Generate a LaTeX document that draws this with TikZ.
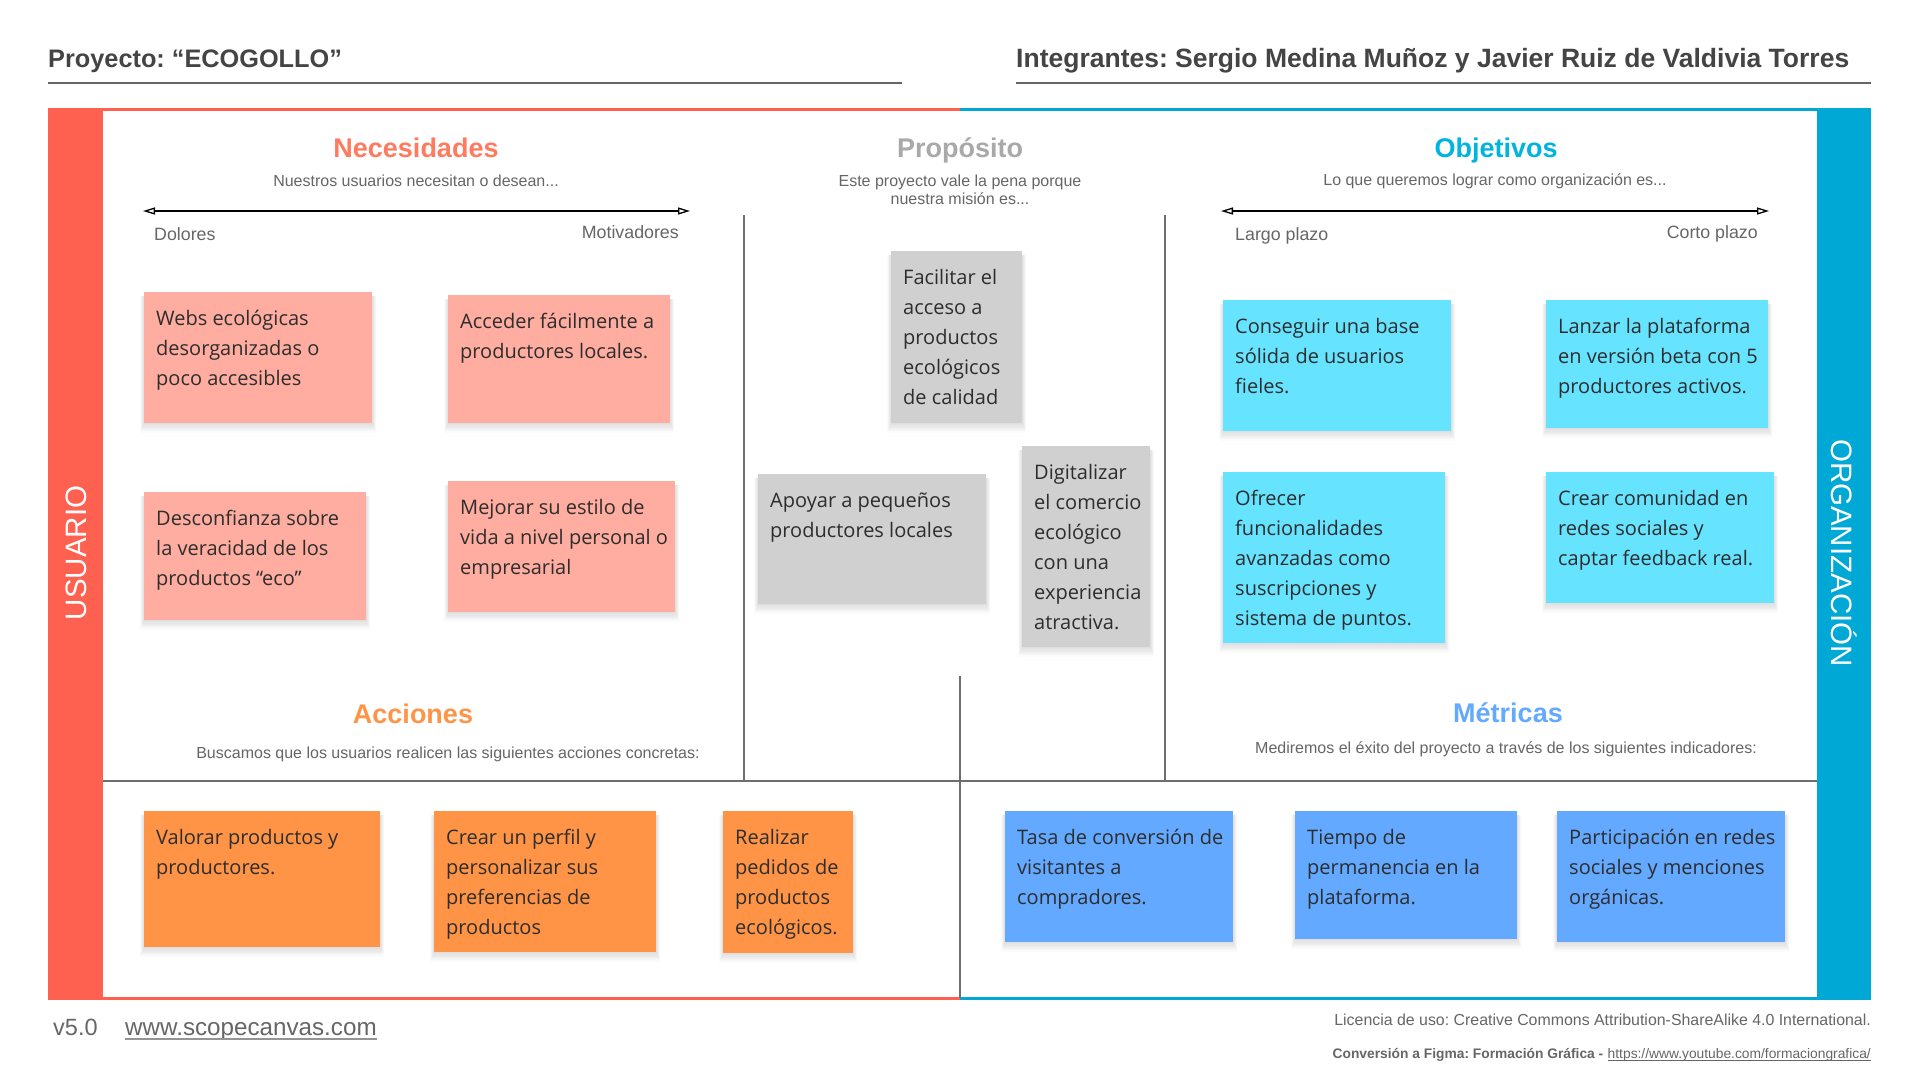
\documentclass[tikz,border=0pt]{standalone}
\usepackage{fontspec}
\setmainfont{Liberation Sans}
\newfontfamily\notefont{Open Sans}
\usetikzlibrary{arrows.meta}
\frenchspacing

\definecolor{userred}{HTML}{FF6150}
\definecolor{orgblue}{HTML}{00A8D6}
\definecolor{headgray}{HTML}{444444}
\definecolor{subgray}{HTML}{666666}
\definecolor{rulegray}{HTML}{6E6E6E}
\definecolor{needcol}{HTML}{FF7B60}
\definecolor{purpcol}{HTML}{A9A9A9}
\definecolor{goalcol}{HTML}{00B4E0}
\definecolor{actcol}{HTML}{FF9447}
\definecolor{metcol}{HTML}{63A9FF}
\definecolor{pinknote}{HTML}{FFADA0}
\definecolor{graynote}{HTML}{D0D0D0}
\definecolor{cyannote}{HTML}{66E3FF}
\definecolor{orangenote}{HTML}{FF9447}
\definecolor{bluenote}{HTML}{63A9FF}
\definecolor{notetextcol}{HTML}{2D2D2D}

\newcommand\fs[2]{\fontsize{#1}{#2}\selectfont}

% sticky note: name, x, y (top left), width, height, colour, lines
% a soft shadow is built from stacked translucent rectangles under the note
\newcommand\sticky[7]{%
  \foreach \k in {1,...,8}{%
    \fill[black, opacity=0.014]
      ({#2-0.5*\k},{#3+4}) rectangle ({#2+#4+0.5*\k},{#3+#5+1.2*\k});
  }
  \node[note, fill=#6, minimum width=#4pt, minimum height=#5pt, anchor=north west] (#1) at (#2,#3) {};
  \node[notetext, anchor=base west] (#1-t) at ([xshift=12pt,yshift=-33.5pt]#1.north west)
    {\parbox[t]{#4pt}{\raggedright #7}};
}

\begin{document}
\begin{tikzpicture}[x=1pt,y=-1pt,
  note/.style={draw=none, inner sep=0pt},
  notetext/.style={inner sep=0pt, text=notetextcol, font=\notefont\fs{20}{30}},
  header/.style={inner sep=0pt, text=headgray, font=\bfseries\fs{26.5}{30}},
  headrule/.style={draw=subgray, line width=1.6pt},
  divider/.style={draw=rulegray, line width=2pt},
  title/.style={inner sep=0pt, anchor=base, font=\bfseries\fs{27}{30}},
  sublabel/.style={inner sep=0pt, text=subgray, font=\fs{16}{18.5}},
  endlabel/.style={inner sep=0pt, text=subgray, font=\fs{17.8}{20}},
  axis/.style={draw=black, line width=1.3pt,
    {Triangle[open,length=12pt,width=7pt]}-{Triangle[open,length=12pt,width=7pt]}},
  sidelabel/.style={inner sep=0pt, text=white, font=\fs{29.5}{30}},
  footer/.style={inner sep=0pt, text=subgray}
]
\useasboundingbox (0,0) rectangle (1920,1080);
\fill[white] (0,0) rectangle (1920,1080);

% ---------- header ----------
\node[header, anchor=base west, font=\bfseries\fs{25.3}{30}] (proj) at (48,67) {Proyecto: “ECOGOLLO”};
\node[header, anchor=base west] (team) at (1016,67) {Integrantes: Sergio Medina Muñoz y Javier Ruiz de Valdivia Torres};
\coordinate (pr1) at (48,83);   \coordinate (pr2) at (902,83);
\coordinate (tr1) at (1016,83); \coordinate (tr2) at (1871,83);
\draw[headrule] (pr1) -- (pr2);
\draw[headrule] (tr1) -- (tr2);

% ---------- canvas frame ----------
\fill[userred] (48,108) rectangle (103,999);
\fill[orgblue] (1817,108) rectangle (1871,999);
\coordinate (tl) at (48,109);  \coordinate (tm) at (960,109);  \coordinate (tr) at (1871,109);
\coordinate (bl) at (48,998);  \coordinate (bm) at (960,998);  \coordinate (br) at (1871,998);
\draw[userred, line width=3pt] (tl) -- (tm);
\draw[orgblue, line width=3pt] (tm) -- (tr);
\draw[userred, line width=3pt] (bl) -- (bm);
\draw[orgblue, line width=3pt] (bm) -- (br);

\node[sidelabel, rotate=90] (usuario) at (76,553) {USUARIO};
\node[sidelabel, rotate=-90] (organiz) at (1844,553) {ORGANIZACIÓN};

% ---------- dividers ----------
\coordinate (v1t) at (744,215);  \coordinate (v1b) at (744,781);
\coordinate (v2t) at (1165,215); \coordinate (v2b) at (1165,781);
\coordinate (hl) at (103,781);   \coordinate (hr) at (1817,781);
\coordinate (cmt) at (960,676);  \coordinate (cmb) at (960,998);
\draw[divider] (v1t) -- (v1b);
\draw[divider] (v2t) -- (v2b);
\draw[divider] (hl) -- (hr);
\draw[divider] (cmt) -- (cmb);

% ---------- section titles ----------
\node[title, text=needcol] (need) at (416,157) {Necesidades};
\node[sublabel, anchor=base] (need-s) at (416,186) {Nuestros usuarios necesitan o desean...};
\coordinate (na1) at (143,211); \coordinate (na2) at (690,211);
\draw[axis] (na1) -- (na2);
\node[endlabel, anchor=base west] (dol) at (154,240) {Dolores};
\node[endlabel, anchor=base east] (mot) at (679,238) {Motivadores};

\node[title, text=purpcol] (purp) at (960,157) {Propósito};
\node[sublabel, anchor=base] (purp-s) at (960,186)
  {\parbox[t]{320pt}{\centering Este proyecto vale la pena porque\\nuestra misión es...}};

\node[title, text=goalcol] (goal) at (1496,157) {Objetivos};
\node[sublabel, anchor=base] (goal-s) at (1495,185) {Lo que queremos lograr como organización es...};
\coordinate (ga1) at (1221,211); \coordinate (ga2) at (1769,211);
\draw[axis] (ga1) -- (ga2);
\node[endlabel, anchor=base west] (largo) at (1235,240) {Largo plazo};
\node[endlabel, anchor=base east] (corto) at (1758,238) {Corto plazo};

\node[title, text=actcol] (act) at (413,723) {Acciones};
\node[sublabel, anchor=base] (act-s) at (448,758) {Buscamos que los usuarios realicen las siguientes acciones concretas:};

\node[title, text=metcol] (met) at (1508,722) {Métricas};
\node[sublabel, anchor=base] (met-s) at (1506,753) {Mediremos el éxito del proyecto a través de los siguientes indicadores:};

% ---------- needs ----------
\sticky{n1}{144}{292}{228}{131}{pinknote}{Webs ecológicas\\desorganizadas o\\poco accesibles}
\sticky{n2}{448}{295}{222}{128}{pinknote}{Acceder fácilmente a\\productores locales.}
\sticky{n3}{144}{492}{222}{128}{pinknote}{Desconfianza sobre\\la veracidad de los\\productos “eco”}
\sticky{n4}{448}{481}{227}{131}{pinknote}{Mejorar su estilo de\\vida a nivel personal o\\empresarial}

% ---------- purpose ----------
\sticky{p1}{891}{251}{131}{172}{graynote}{Facilitar el\\acceso a\\productos\\ecológicos\\de calidad}
\sticky{p2}{758}{474}{228}{130}{graynote}{Apoyar a pequeños\\productores locales}
\sticky{p3}{1022}{446}{128}{201}{graynote}{Digitalizar\\el comercio\\ecológico\\con una\\experiencia\\atractiva.}

% ---------- goals ----------
\sticky{g1}{1223}{300}{228}{131}{cyannote}{Conseguir una base\\sólida de usuarios\\fieles.}
\sticky{g2}{1546}{300}{222}{128}{cyannote}{Lanzar la plataforma\\en versión beta con 5\\productores activos.}
\sticky{g3}{1223}{472}{222}{171}{cyannote}{Ofrecer\\funcionalidades\\avanzadas como\\suscripciones y\\sistema de puntos.}
\sticky{g4}{1546}{472}{228}{131}{cyannote}{Crear comunidad en\\redes sociales y\\captar feedback real.}

% ---------- actions ----------
\sticky{a1}{144}{811}{236}{136}{orangenote}{Valorar productos y\\productores.}
\sticky{a2}{434}{811}{222}{141}{orangenote}{Crear un perfil y\\personalizar sus\\preferencias de\\productos}
\sticky{a3}{723}{811}{130}{142}{orangenote}{Realizar\\pedidos de\\productos\\ecológicos.}

% ---------- metrics ----------
\sticky{m1}{1005}{811}{228}{131}{bluenote}{Tasa de conversión de\\visitantes a\\compradores.}
\sticky{m2}{1295}{811}{222}{128}{bluenote}{Tiempo de\\permanencia en la\\plataforma.}
\sticky{m3}{1557}{811}{228}{131}{bluenote}{Participación en redes\\sociales y menciones\\orgánicas.}

% ---------- footer ----------
\node[footer, anchor=base west, font=\fs{23.5}{24}] (ver) at (53,1035) {v5.0};
\node[footer, anchor=base west, font=\fs{24.2}{26}] (url) at (125,1035) {www.scopecanvas.com};
\draw[draw=subgray!70, line width=1.5pt] ([yshift=-4pt]url.base west) -- ([yshift=-4pt]url.base east);
\node[footer, anchor=base east, font=\fs{15.9}{18}] (lic) at (1871,1025) {Licencia de uso: Creative Commons Attribution-ShareAlike 4.0 International.};
\node[footer, anchor=base east, font=\fs{13.8}{16}] (conv-url) at (1871,1058) {https://www.youtube.com/formaciongrafica/};
\node[footer, anchor=base east, font=\bfseries\fs{13.8}{16}] (conv) at ([xshift=-4pt]conv-url.base west) {Conversión a Figma: Formación Gráfica -};
\draw[draw=subgray, line width=0.8pt] ([yshift=-2.5pt]conv-url.base west) -- ([yshift=-2.5pt]conv-url.base east);
\end{tikzpicture}
\end{document}
